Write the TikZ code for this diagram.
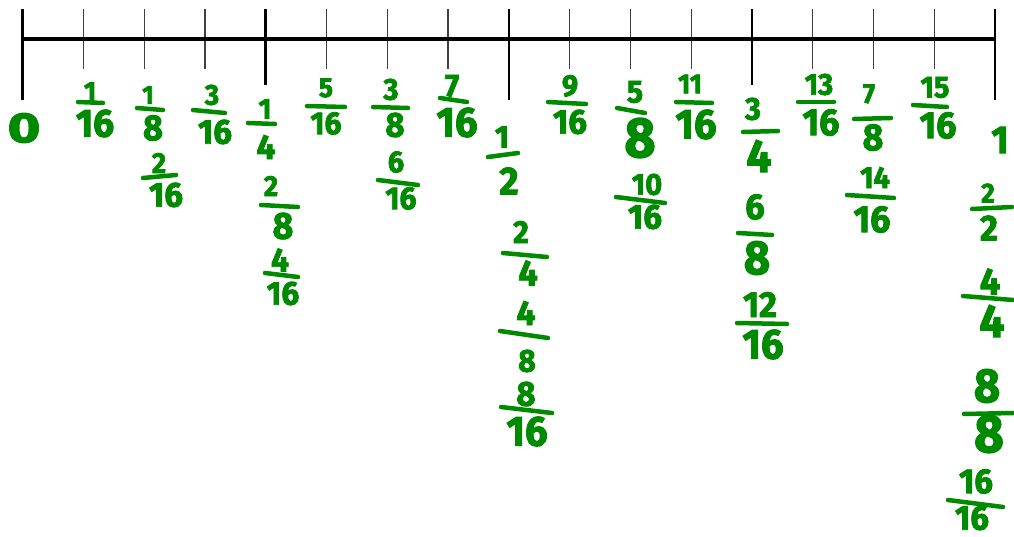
\documentclass[tikz,border=0pt]{standalone}
\usepackage{fontspec}
\usepackage{graphicx}
\setmainfont{Fira Sans}
\newfontfamily\penfont{Fira Sans Bold}[FakeBold=2.5]
\definecolor{pen}{RGB}{0,138,0}
\newcommand\dg[2]{\fontsize{\fpeval{1.45*#1}pt}{\fpeval{1.45*#1}pt}\penfont\scalebox{0.95}[1]{#2}}
\tikzset{
  dig/.style={inner sep=0pt, text=pen, anchor=center},
  fbar/.style={draw=pen, line width=4.5pt, line cap=round},
  majortick/.style={line width=2.6pt, black},
  minortick/.style={line width=1.3pt, black!75},
  axis/.style={line width=4pt, black}
}
% id, num pos, num, num height, bar start, bar end, den pos, den, den height
\newcommand\Fr[9]{%
  \node[dig] (#1n) at (#2) {\dg{#4}{#3}};
  \coordinate (#1a) at (#5);
  \coordinate (#1b) at (#6);
  \draw[fbar] (#1a) -- (#1b);
  \node[dig] (#1d) at (#7) {\dg{#9}{#8}};
}
\begin{document}
\begin{tikzpicture}[x=1pt,y=-1pt]
\useasboundingbox (0,0) rectangle (1014,537);
% ticks
\foreach \i in {0,...,16}{
  \pgfmathsetmacro\xx{22.7+\i*60.77}
  \pgfmathtruncatemacro\m{mod(\i,8)}
  \pgfmathtruncatemacro\q{mod(\i,4)}
  \ifnum\m=0
    \draw[majortick] (\xx,9) -- (\xx,100);
  \else\ifnum\q=0
    \draw[majortick] (\xx,9) -- (\xx,85);
  \else
    \draw[minortick] (\xx,9) -- (\xx,69);
  \fi\fi
}
\coordinate (L) at (22.7,39);
\coordinate (R) at (995,39);
\draw[axis] (L) -- (R);
% labels
\node[dig] (zero) at (24,128) {\dg{29}{\scalebox{1.4}[1]{0}}};
\node[dig] (one) at (1000,140) {\dg{27}{1}};
\Fr{a}{90,91.5}{1}{19}{78,102}{103,103}{95,123.5}{16}{27}
\Fr{b}{148,95}{1}{18}{137,108}{163,110}{153,128}{8}{25}
\Fr{c}{159,163}{2}{20}{143,178}{176,175}{166,195}{16}{24}
\Fr{d}{212,95}{3}{20}{193,110}{225,113}{215,132}{16}{24}
\Fr{e}{265,109}{1}{20}{248,123}{275,124}{266,147}{4}{24}
\Fr{f}{271,186}{2}{20}{261,205}{298,207}{283,226}{8}{26}
\Fr{g}{280,260}{4}{23}{265,273}{298,277}{283,293.5}{16}{23}
\Fr{h}{326,88}{5}{19}{307,106}{345,107}{326,123.5}{16}{22}
\Fr{i}{391,89.5}{3}{21}{373,107}{408,108}{395,125}{8}{24}
\Fr{j}{396,162}{6}{21}{378,180}{418,185}{401,198.5}{16}{22}
\Fr{k}{452,86}{7}{22}{440,98}{467,102}{457,122.5}{16}{29}
\Fr{l}{502,137}{1}{22}{488,157}{518,153}{509,181}{2}{27}
\Fr{m}{521,232}{2}{22}{503,253}{547,257}{528,273}{4}{25}
\Fr{n}{526,313}{4}{24}{500,331}{548,338}{527,361}{8}{22}
\Fr{o}{526,394}{8}{24}{501,407}{552,413}{527,431.5}{16}{29}
\Fr{p}{570,86}{9}{21}{548,102}{586,104}{570,122}{16}{24}
\Fr{q}{635,92}{5}{22}{617,108}{645,113}{640,138}{8}{39}
\Fr{r}{647,184.5}{10}{21}{616,197}{665,203}{645,217}{16}{24}
\Fr{s}{690,84}{11}{19}{676,102}{712,103}{696,124.5}{16}{29}
\Fr{t}{753,109}{3}{22}{743,132}{778,131}{759,156}{4}{32}
\Fr{u}{755,207}{6}{25}{738,233}{772,235}{757,258}{8}{33}
\Fr{v}{760,304.5}{12}{25}{737,323}{787,324}{763,344.5}{16}{29}
\Fr{w}{819,84.5}{13}{21}{798,102}{834,102}{821,122.5}{16}{26}
\Fr{x}{869,94}{7}{19}{854,119}{891,118}{873,137.5}{8}{26}
\Fr{y}{875,177.5}{14}{21}{847,195}{894,198}{872,219.5}{16}{26}
\Fr{z}{935,87.5}{15}{21}{913,105}{947,107}{938,125.5}{16}{26}
\Fr{aa}{988,193}{2}{19}{972,209}{1012,207}{989,228}{2}{25}
\Fr{ab}{990,281.5}{4}{26}{963,296}{1013,300}{992,321}{4}{32}
\Fr{ac}{987,386}{8}{33}{964,414}{1013,413}{989,434}{8}{37}
\Fr{ad}{976,481.5}{16}{24}{948,500}{1003,507}{972,518}{16}{24}
\end{tikzpicture}
\end{document}
